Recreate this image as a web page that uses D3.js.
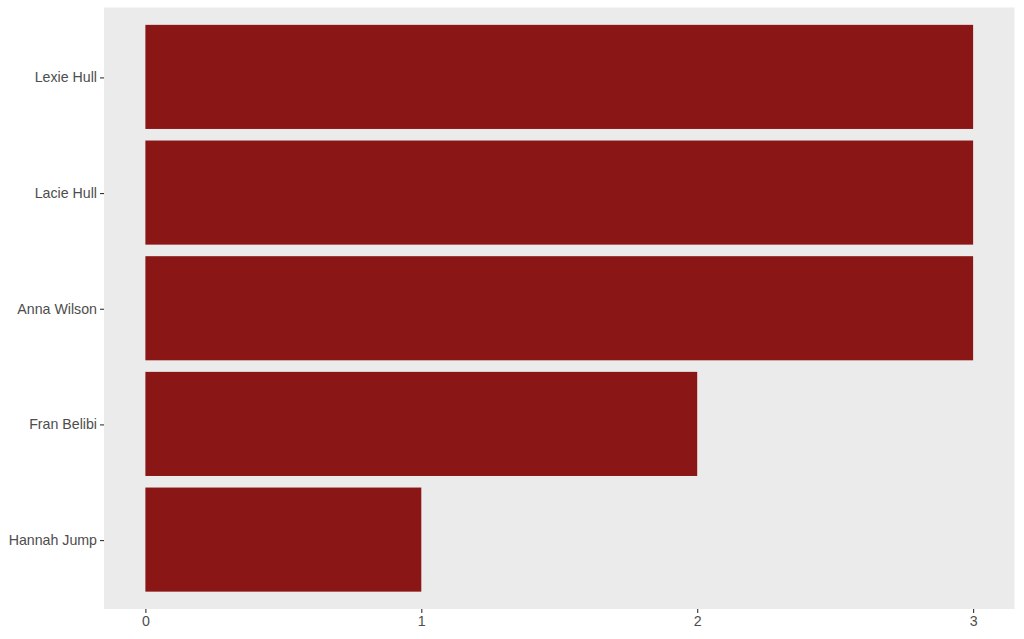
<!DOCTYPE html>
<html><head><meta charset="utf-8">
<script src="https://cdn.jsdelivr.net/npm/d3@7"></script>
<style>body{margin:0;background:#fff}svg{display:block}</style>
</head><body>
<script>
const categories = ["Lexie Hull","Lacie Hull","Anna Wilson","Fran Belibi","Hannah Jump"];
const values = [3,3,3,2,1];
const xTicks = [0,1,2,3];

const W=1024,H=639;
const m={left:104,right:9.5,top:7.5,bottom:30};
const svg=d3.select("body").append("svg").attr("width",W).attr("height",H);
const x=d3.scaleLinear().domain([-0.15,3.15]).range([m.left,W-m.right]);
const y=d3.scaleBand().domain(categories).range([m.top,H-m.bottom]).paddingInner(0.1).paddingOuter(0.15);
svg.append("rect").attr("x",m.left).attr("y",m.top).attr("width",W-m.right-m.left).attr("height",H-m.bottom-m.top).attr("fill","#EBEBEB");
svg.append("g").selectAll("rect").data(categories).join("rect")
 .attr("x",x(0)).attr("y",d=>y(d)).attr("height",y.bandwidth())
 .attr("width",(d,i)=>x(values[i])-x(0)).attr("fill","#8B1616");
const ya=svg.append("g").attr("transform",`translate(${m.left},0)`).call(d3.axisLeft(y).tickSize(4).tickPadding(3));
const xa=svg.append("g").attr("transform",`translate(0,${H-m.bottom})`).call(d3.axisBottom(x).tickValues(xTicks).tickSize(4).tickPadding(3).tickFormat(d3.format("d")));
[ya,xa].forEach(a=>{a.select(".domain").remove();
 a.selectAll(".tick line").attr("stroke","#333333").attr("stroke-width",1.1);
 a.selectAll("text").attr("fill","#4D4D4D").style("font-family","'Liberation Sans',Arial,sans-serif").style("font-size","14.2px");});
ya.selectAll(".tick").attr("transform",d=>`translate(0,${y(d)+y.bandwidth()/2+1})`);
</script>
</body></html>
